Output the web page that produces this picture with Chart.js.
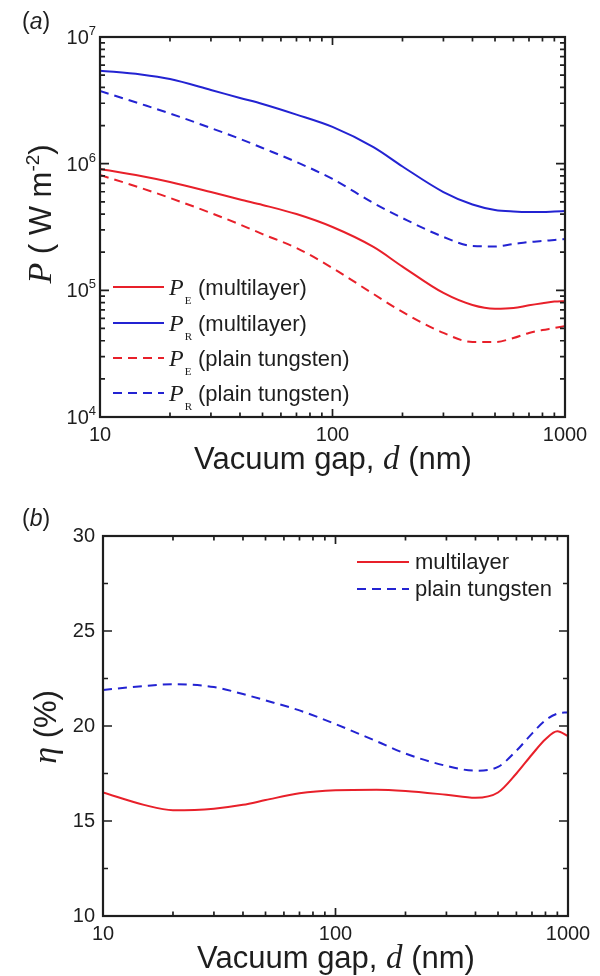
<!DOCTYPE html>
<html><head><meta charset="utf-8">
<script src="https://cdn.jsdelivr.net/npm/chart.js@4.4.1/dist/chart.umd.min.js"></script>
<style>
html,body{margin:0;padding:0;background:#fff;}
canvas{display:block;}
</style></head><body>
<canvas id="c1" width="600" height="488"></canvas>
<canvas id="c2" width="600" height="488"></canvas>
<script>
// ---------- data ----------
const gapNm = [10,15,20,30,40,50,70,100,150,200,300,400,500,600,700,800,900,1000];
const peMultilayer = [9.08e5,7.99e5,7.17e5,5.97e5,5.21e5,4.72e5,4.00e5,3.16e5,2.20e5,1.54e5,9.53e4,7.66e4,7.16e4,7.25e4,7.62e4,7.91e4,8.15e4,8.21e4];
const prMultilayer = [5.42e6,5.06e6,4.66e6,3.82e6,3.30e6,2.96e6,2.44e6,1.95e6,1.35e6,9.50e5,5.97e5,4.76e5,4.31e5,4.19e5,4.15e5,4.15e5,4.19e5,4.23e5];
const pePlain = [8.14e5,6.43e5,5.36e5,4.08e5,3.31e5,2.78e5,2.16e5,1.50e5,9.36e4,6.75e4,4.61e4,3.91e4,3.91e4,4.20e4,4.61e4,4.86e4,5.04e4,5.23e4];
const prPlain = [3.75e6,2.96e6,2.49e6,1.91e6,1.57e6,1.33e6,1.03e6,7.57e5,4.89e5,3.72e5,2.64e5,2.24e5,2.22e5,2.32e5,2.41e5,2.45e5,2.50e5,2.54e5];
const etaMultilayer = [16.5,15.85,15.57,15.65,15.85,16.1,16.46,16.62,16.65,16.58,16.38,16.22,16.5,17.5,18.5,19.3,19.72,19.47];
const etaPlain = [21.9,22.1,22.2,22.05,21.68,21.35,20.82,20.1,19.2,18.55,17.9,17.65,17.85,18.7,19.6,20.3,20.65,20.72];
const gapTickLabels = [10,100,1000];
const powerExponents = [4,5,6,7];
const etaTickLabels = [10,15,20,25,30];
const legendSubA = ['E','R','E','R'];
const legendNoteA = ['(multilayer)','(multilayer)','(plain tungsten)','(plain tungsten)'];
const legendB = ['multilayer','plain tungsten'];

// ---------- styles ----------
const INK = '#1e1e1e';
const RED = '#e8202a';
const BLUE = '#2323d2';
const SANS = '"Liberation Sans", Arial, Helvetica, sans-serif';
const SERIF = '"Liberation Serif", "Times New Roman", serif';

function rich(ctx, segs, x, y, align, rot) {
  ctx.save();
  ctx.translate(x, y);
  if (rot) ctx.rotate(rot);
  ctx.textAlign = 'left'; ctx.textBaseline = 'alphabetic'; ctx.fillStyle = INK;
  let w = 0;
  segs.forEach(s => { ctx.font = s.f; s.w = ctx.measureText(s.t).width + (s.gap || 0); w += s.w; });
  let cx = align === 'center' ? -w / 2 : align === 'right' ? -w : 0;
  segs.forEach(s => { ctx.font = s.f; ctx.fillText(s.t, cx, s.dy || 0); cx += s.w; });
  ctx.restore();
}

function pts(ys) { return gapNm.map((d, i) => ({x: d, y: ys[i]})); }
function ds(label, ys, color, dashed) {
  return {label, data: pts(ys), borderColor: color, backgroundColor: color, borderWidth: 2,
    borderDash: dashed ? [9, 6] : [], pointRadius: 0, cubicInterpolationMode: 'monotone', fill: false};
}

const isPow10 = v => Math.abs(Math.log10(v) - Math.round(Math.log10(v))) < 1e-9;
const logMinor = (lo, hi) => { const out = []; for (let p = lo; p < hi; p++) for (let k = 2; k <= 9; k++) out.push(k * Math.pow(10, p)); return out; };

function frameTicks(cfg) {
  return {
    id: 'frameTicks',
    afterDatasetsDraw(chart) {
      const {ctx, chartArea: a, scales: {x, y}} = chart;
      ctx.save();
      ctx.strokeStyle = INK; ctx.lineWidth = 1.7;
      ctx.beginPath();
      const xt = (v, L) => { const p = x.getPixelForValue(v); ctx.moveTo(p, a.bottom); ctx.lineTo(p, a.bottom - L); ctx.moveTo(p, a.top); ctx.lineTo(p, a.top + L); };
      const yt = (v, L) => { const p = y.getPixelForValue(v); ctx.moveTo(a.left, p); ctx.lineTo(a.left + L, p); ctx.moveTo(a.right, p); ctx.lineTo(a.right - L, p); };
      cfg.xMajor.forEach(v => xt(v, 8)); cfg.xMinor.forEach(v => xt(v, 4.5));
      cfg.yMajor.forEach(v => yt(v, 9)); cfg.yMinor.forEach(v => yt(v, 5));
      ctx.stroke();
      ctx.lineWidth = 2.2;
      ctx.strokeRect(a.left, a.top, a.right - a.left, a.bottom - a.top);
      ctx.restore();
      if (cfg.after) cfg.after(chart);
    }
  };
}

const xAxisCommon = {
  type: 'logarithmic', min: 10, max: 1000,
  grid: {display: false, drawTicks: false}, border: {display: false},
  ticks: {autoSkip: false, maxRotation: 0, minRotation: 0, padding: 6, color: INK,
    font: {family: SANS, size: 20}, callback: v => (gapTickLabels.includes(Math.round(v)) && isPow10(v)) ? String(Math.round(v)) : ''}
};

// ---------- chart (a) ----------
new Chart(document.getElementById('c1'), {
  type: 'line',
  data: {datasets: [
    ds('PE (multilayer)', peMultilayer, RED, false),
    ds('PR (multilayer)', prMultilayer, BLUE, false),
    ds('PE (plain tungsten)', pePlain, RED, true),
    ds('PR (plain tungsten)', prPlain, BLUE, true)
  ]},
  options: {
    responsive: false, animation: false, events: [],
    layout: {padding: {top: 37, right: 35, left: 0, bottom: 0}},
    plugins: {legend: {display: false}, tooltip: {enabled: false}},
    scales: {
      x: Object.assign({}, xAxisCommon, {afterFit: s => { s.height = 71; }}),
      y: {type: 'logarithmic', min: 1e4, max: 1e7, grid: {display: false, drawTicks: false}, border: {display: false},
          ticks: {display: false}, afterFit: s => { s.width = 100; }}
    }
  },
  plugins: [frameTicks({
    xMajor: gapTickLabels, xMinor: logMinor(1, 3),
    yMajor: powerExponents.map(e => Math.pow(10, e)), yMinor: logMinor(4, 7),
    after(chart) {
      const ctx = chart.ctx, y = chart.scales.y;
      powerExponents.forEach(e => {
        const py = y.getPixelForValue(Math.pow(10, e));
        rich(ctx, [{t: '10', f: `20px ${SANS}`}, {t: String(e), f: `13px ${SANS}`, dy: -9}], 96, py + 7, 'right');
      });
      // axis titles
      rich(ctx, [{t: 'P', f: `italic 34px ${SERIF}`}, {t: ' ( W m', f: `31px ${SANS}`}, {t: '-2', f: `19px ${SANS}`, dy: -12}, {t: ')', f: `31px ${SANS}`}], 51, 214, 'center', -Math.PI / 2);
      rich(ctx, [{t: 'Vacuum gap, ', f: `31px ${SANS}`}, {t: 'd', f: `italic 33px ${SERIF}`}, {t: ' (nm)', f: `31px ${SANS}`}], 333, 469, 'center');
      // panel label
      rich(ctx, [{t: '(', f: `23px ${SANS}`}, {t: 'a', f: `italic 23px ${SANS}`}, {t: ')', f: `23px ${SANS}`}], 22, 29, 'left');
      // legend
      const rows = [287, 323, 358, 393];
      chart.data.datasets.forEach((d, i) => {
        const ly = rows[i];
        ctx.save();
        ctx.strokeStyle = d.borderColor; ctx.lineWidth = 2; ctx.setLineDash(d.borderDash);
        ctx.beginPath(); ctx.moveTo(113, ly); ctx.lineTo(164, ly); ctx.stroke();
        ctx.restore();
        rich(ctx, [{t: 'P', f: `italic 24px ${SERIF}`, gap: 1}, {t: legendSubA[i], f: `11px ${SERIF}`, dy: 9}], 169, ly + 8, 'left');
        rich(ctx, [{t: legendNoteA[i], f: `22px ${SANS}`}], 198, ly + 8, 'left');
      });
    }
  })]
});

// ---------- chart (b) ----------
new Chart(document.getElementById('c2'), {
  type: 'line',
  data: {datasets: [
    ds('multilayer', etaMultilayer, RED, false),
    ds('plain tungsten', etaPlain, BLUE, true)
  ]},
  options: {
    responsive: false, animation: false, events: [],
    layout: {padding: {top: 48, right: 32, left: 0, bottom: 0}},
    plugins: {legend: {display: false}, tooltip: {enabled: false}},
    scales: {
      x: Object.assign({}, xAxisCommon, {afterFit: s => { s.height = 60; }}),
      y: {type: 'linear', min: 10, max: 30, grid: {display: false, drawTicks: false}, border: {display: false},
          afterBuildTicks: s => { s.ticks = etaTickLabels.map(v => ({value: v})); },
          ticks: {padding: 8, color: INK, font: {family: SANS, size: 20}, callback: v => String(v)},
          afterFit: s => { s.width = 103; }}
    }
  },
  plugins: [frameTicks({
    xMajor: gapTickLabels, xMinor: logMinor(1, 3),
    yMajor: etaTickLabels, yMinor: [12.5, 17.5, 22.5, 27.5],
    after(chart) {
      const ctx = chart.ctx;
      rich(ctx, [{t: 'η', f: `italic 34px ${SERIF}`}, {t: ' (%)', f: `31px ${SANS}`}], 56, 239, 'center', -Math.PI / 2);
      rich(ctx, [{t: 'Vacuum gap, ', f: `31px ${SANS}`}, {t: 'd', f: `italic 33px ${SERIF}`}, {t: ' (nm)', f: `31px ${SANS}`}], 336, 480, 'center');
      rich(ctx, [{t: '(', f: `23px ${SANS}`}, {t: 'b', f: `italic 23px ${SANS}`}, {t: ')', f: `23px ${SANS}`}], 22, 38, 'left');
      const rows = [74, 101];
      chart.data.datasets.forEach((d, i) => {
        const ly = rows[i];
        ctx.save();
        ctx.strokeStyle = d.borderColor; ctx.lineWidth = 2; ctx.setLineDash(d.borderDash);
        ctx.beginPath(); ctx.moveTo(357, ly); ctx.lineTo(409, ly); ctx.stroke();
        ctx.restore();
        rich(ctx, [{t: legendB[i], f: `22px ${SANS}`}], 415, ly + 7, 'left');
      });
    }
  })]
});
</script>
</body></html>
